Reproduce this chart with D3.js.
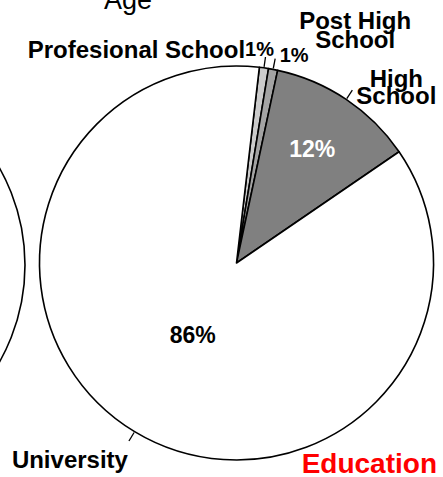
<!DOCTYPE html>
<html>
<head>
<meta charset="utf-8">
<script src="https://cdn.jsdelivr.net/npm/d3@7"></script>
<style>
  html, body { margin: 0; padding: 0; background: #fff; }
  svg { display: block; }
  text { font-family: "Liberation Sans", Arial, sans-serif; }
</style>
</head>
<body>
<svg id="chart" width="443" height="477"></svg>
<script>
// ---- data ----
const categories = ["Profesional School", "Post High School", "High School", "University"];
const shares = [0.75, 0.75, 12.1, 86.4];          // percent
const sliceColors = ["#cbcbcb", "#a3a3a3", "#808080", "#ffffff"];
const nameLines = [["Profesional School"], ["Post High", "School"], ["High", "School"], ["University"]];
const chartTitle = "Education";
const neighbourTitle = "Age";

// ---- layout ----
const W = 443, H = 477;
const cx = 236.5, cy = 263, R = 197;
const startDeg = 6.66;
const fmt = d3.format(".0%");

const svg = d3.select("#chart");

// neighbouring (cropped) pie outline on the left
svg.append("circle")
  .attr("cx", 25 - R).attr("cy", 265).attr("r", R)
  .attr("fill", "#fff").attr("stroke", "#000").attr("stroke-width", 1.6);

// neighbouring title (cropped)
svg.append("text")
  .attr("x", 104).attr("y", 9)
  .attr("font-size", 27).attr("fill", "#000")
  .text(neighbourTitle);

const a0 = startDeg * Math.PI / 180;
const pie = d3.pie().sort(null).value(d => d.v).startAngle(a0).endAngle(a0 + 2 * Math.PI);
const data = categories.map((c, i) => ({ c, v: shares[i], col: sliceColors[i], lines: nameLines[i] }));
const arcs = pie(data);
const arc = d3.arc().innerRadius(0).outerRadius(R);

const g = svg.append("g").attr("transform", `translate(${cx},${cy})`);

g.selectAll("path.slice").data(arcs).enter().append("path")
  .attr("class", "slice")
  .attr("d", arc)
  .attr("fill", d => d.data.col)
  .attr("stroke", "#000")
  .attr("stroke-width", 1.6)
  .attr("stroke-linejoin", "round");

const mid = d => (d.startAngle + d.endAngle) / 2;
const polar = (a, r) => [r * Math.sin(a), -r * Math.cos(a)];

// leader lines for the outside labels
g.selectAll("line.leader").data(arcs).enter().append("line")
  .attr("class", "leader")
  .attr("x1", d => polar(mid(d), R + 1)[0])
  .attr("y1", d => polar(mid(d), R + 1)[1])
  .attr("x2", d => polar(mid(d), R + 11)[0])
  .attr("y2", d => polar(mid(d), R + 11)[1])
  .attr("stroke", "#000").attr("stroke-width", 1.3);

// label placements (offsets from the leader end), per slice
const namePlace = [
  { dx: 8.5, dy: 0.5, anchor: "end", lh: 0, pctInline: true },
  { dx: 80, dy: -29.5, anchor: "middle", lh: 18.5 },
  { dx: 44, dy: -3, anchor: "middle", lh: 17 },
  { dx: -1, dy: 27, anchor: "end", lh: 0 }
];

arcs.forEach((d, i) => {
  const [ex, ey] = polar(mid(d), R + 11);
  const p = namePlace[i];
  const t = g.append("text")
    .attr("x", ex + p.dx).attr("y", ey + p.dy)
    .attr("text-anchor", p.anchor)
    .attr("font-size", 24).attr("font-weight", "bold").attr("fill", "#000");
  d.data.lines.forEach((ln, k) => {
    t.append("tspan").attr("x", ex + p.dx).attr("dy", k === 0 ? 0 : p.lh).text(ln);
  });
  if (p.pctInline) {
    t.append("tspan").attr("font-size", 20).attr("dy", -1.5).text(fmt(d.data.v / 100));
  }
});

// small "1%" for the Post High School slice, beside its leader
{
  const d = arcs[1];
  const [ex, ey] = polar(mid(d), R + 11);
  g.append("text")
    .attr("x", ex + 4.5).attr("y", ey + 3)
    .attr("font-size", 20).attr("font-weight", "bold").attr("fill", "#000")
    .text(fmt(d.data.v / 100));
}

// inside percentage labels
const inside = [
  { i: 2, rf: 0.69, color: "#fff", dy: 7 },
  { i: 3, rf: 0.43, color: "#000", dy: 7 }
];
inside.forEach(o => {
  const d = arcs[o.i];
  const [x, y] = polar(mid(d), R * o.rf);
  g.append("text")
    .attr("x", x).attr("y", y + o.dy)
    .attr("text-anchor", "middle")
    .attr("font-size", 23).attr("font-weight", "bold").attr("fill", o.color)
    .text(fmt(d.data.v / 100));
});

// chart title
svg.append("text")
  .attr("x", 437).attr("y", 473)
  .attr("text-anchor", "end")
  .attr("font-size", 28).attr("font-weight", "bold").attr("fill", "#ff0000")
  .text(chartTitle);
</script>
</body>
</html>
